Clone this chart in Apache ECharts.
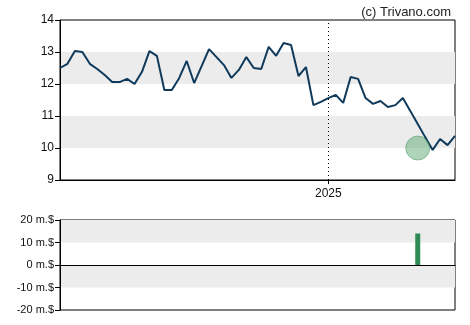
<!DOCTYPE html>
<html>
<head>
<meta charset="utf-8">
<script src="https://cdn.jsdelivr.net/npm/echarts@6/dist/echarts.min.js"></script>
<style>
html,body{margin:0;padding:0;background:#fff;}
#c{width:470px;height:325px;}
</style>
</head>
<body>
<div id="c"></div>
<script>
const dates = ['2024-04-22','2024-04-29','2024-05-06','2024-05-13','2024-05-20','2024-05-27','2024-06-03','2024-06-10','2024-06-17','2024-06-24',
'2024-07-01','2024-07-08','2024-07-15','2024-07-22','2024-07-29','2024-08-05','2024-08-12','2024-08-19','2024-08-26','2024-09-02',
'2024-09-09','2024-09-16','2024-09-23','2024-09-30','2024-10-07','2024-10-14','2024-10-21','2024-10-28','2024-11-04','2024-11-11',
'2024-11-18','2024-11-25','2024-12-02','2024-12-09','2024-12-16','2024-12-23','2024-12-30','2025-01-06','2025-01-13','2025-01-20',
'2025-01-27','2025-02-03','2025-02-10','2025-02-17','2025-02-24','2025-03-03','2025-03-10','2025-03-17','2025-03-24','2025-03-31',
'2025-04-07','2025-04-14','2025-04-21','2025-04-28'];
const prices = [12.50,12.63,13.03,13.00,12.63,12.47,12.28,12.06,12.06,12.16,
12.00,12.38,13.03,12.88,11.81,11.81,12.19,12.72,12.03,12.56,
13.09,12.84,12.59,12.19,12.44,12.84,12.50,12.47,13.16,12.88,
13.28,13.22,12.25,12.53,11.34,11.44,11.56,11.66,11.41,12.22,
12.16,11.56,11.38,11.47,11.28,11.34,11.56,11.16,10.75,10.34,
9.94,10.28,10.09,10.38];
const yearTick = '2024-12-30';
const yearLabel = '2025';
const markerDate = '2025-03-24';
const markerValue = 10.0;
const flowDates = ['2025-03-24'];
const flowValues = [14];
const priceTicks = [9, 14, 1];
const flowTicks = [-20, 20, 10];
const copyright = '(c) Trivano.com';

const chart = echarts.init(document.getElementById('c'), null, {renderer:'canvas'});
const font = 'Liberation Sans, Arial, sans-serif';
const bandColors = ['rgba(255,255,255,0)', '#ececec'];
const flowData = flowDates.map((d,i)=>[d, flowValues[i]]);

chart.setOption({
  animation:false,
  backgroundColor:'#fff',
  title:{text:copyright, right:14, top:1, textStyle:{fontFamily:font, fontSize:13, fontWeight:'normal', color:'#222'}},
  grid:[
    {left:60, top:20, width:395, height:160, show:true, borderColor:'#000', borderWidth:1, backgroundColor:'transparent'},
    {left:60, top:220, width:395, height:90, show:true, borderColor:'#000', borderWidth:1, backgroundColor:'transparent'}
  ],
  xAxis:[
    {type:'category', gridIndex:0, data:dates, boundaryGap:false,
     axisLine:{lineStyle:{color:'#000'}},
     axisTick:{alignWithLabel:true, length:4, interval:(i,v)=>v===yearTick, lineStyle:{color:'#000'}},
     axisLabel:{interval:(i,v)=>v===yearTick, formatter:(v)=>v===yearTick?yearLabel:'', fontFamily:font, fontSize:12, color:'#111', margin:8},
     splitLine:{show:false}},
    {type:'category', gridIndex:1, data:dates, boundaryGap:false,
     axisLine:{onZero:true, lineStyle:{color:'#000'}},
     axisTick:{show:false}, axisLabel:{show:false}, splitLine:{show:false}}
  ],
  yAxis:[
    {type:'value', gridIndex:0, min:priceTicks[0], max:priceTicks[1], interval:priceTicks[2],
     axisLine:{show:true, lineStyle:{color:'#000'}},
     axisTick:{show:true, length:5, lineStyle:{color:'#000'}},
     axisLabel:{fontFamily:font, fontSize:12, color:'#111', margin:6},
     splitLine:{show:false},
     splitArea:{show:true, areaStyle:{color:bandColors}}},
    {type:'value', gridIndex:1, min:flowTicks[0], max:flowTicks[1], interval:flowTicks[2],
     axisLine:{show:true, lineStyle:{color:'#000'}},
     axisTick:{show:true, length:5, lineStyle:{color:'#000'}},
     axisLabel:{fontFamily:font, fontSize:11, color:'#111', margin:6, formatter:(v)=>v+' m.$'},
     splitLine:{show:false},
     splitArea:{show:true, areaStyle:{color:bandColors}}}
  ],
  series:[
    {type:'line', xAxisIndex:0, yAxisIndex:0, data:prices, showSymbol:false, symbol:'none',
     lineStyle:{color:'#0f3a5b', width:2}, z:3,
     markLine:{silent:true, symbol:'none', label:{show:false},
       lineStyle:{color:'#000', type:[1,3], width:1}, data:[{xAxis:yearTick}]}},
    {type:'scatter', xAxisIndex:0, yAxisIndex:0, data:[[markerDate, markerValue]], symbolSize:24,
     itemStyle:{color:'rgba(70,160,95,0.55)', borderColor:'rgba(60,140,80,0.6)', borderWidth:1}, z:4},
    {type:'bar', xAxisIndex:1, yAxisIndex:1, data:flowData, barWidth:5,
     itemStyle:{color:'#2e8b57'}}
  ]
});
</script>
</body>
</html>
